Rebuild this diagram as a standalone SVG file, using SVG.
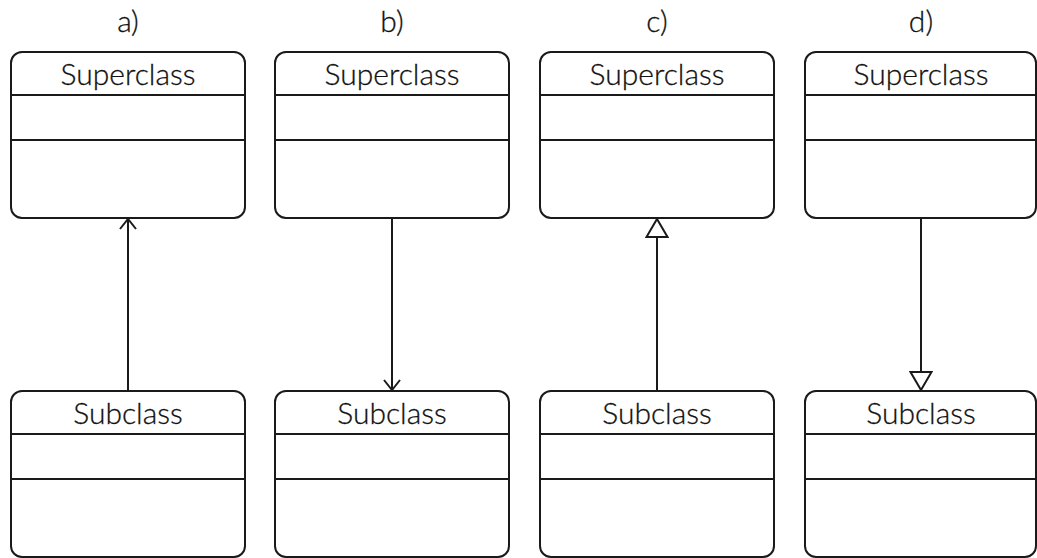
<svg xmlns="http://www.w3.org/2000/svg" width="1037" height="558" viewBox="0 0 1037 558">
<style>
.box{fill:#fff;stroke:#1a1a1a;stroke-width:2}
.div{stroke:#1a1a1a;stroke-width:2}
.t{font-family:Lato,"Noto Sans",sans-serif;font-weight:300;font-size:30px;fill:#111;text-anchor:middle;stroke:#111;stroke-width:0.3}
.c{stroke:#1a1a1a;stroke-width:2;fill:none}
</style>
<defs>
<marker id="open" viewBox="0 0 20 20" refX="19" refY="10" markerWidth="20" markerHeight="20" markerUnits="userSpaceOnUse" orient="auto">
<path d="M9,2 L19,10 L9,18" fill="none" stroke="#1a1a1a" stroke-width="2"/>
</marker>
<marker id="tri" viewBox="0 0 24 24" refX="22" refY="12" markerWidth="24" markerHeight="24" markerUnits="userSpaceOnUse" orient="auto">
<path d="M4,1.5 L22,12 L4,22.5 Z" fill="#fff" stroke="#1a1a1a" stroke-width="2"/>
</marker>
</defs>
<rect width="1037" height="558" fill="#fff"/>
<g id="labels">
<text class="t" x="128" y="32">a)</text>
<text class="t" x="392" y="32">b)</text>
<text class="t" x="657" y="32">c)</text>
<text class="t" x="921" y="32">d)</text>
</g>
<g id="super-a"><rect class="box" x="11" y="52" width="234" height="166" rx="11"/><line class="div" x1="11" y1="95" x2="245" y2="95"/><line class="div" x1="11" y1="140" x2="245" y2="140"/><text class="t" x="128" y="85">Superclass</text></g>
<g id="super-b"><rect class="box" x="275" y="52" width="234" height="166" rx="11"/><line class="div" x1="275" y1="95" x2="509" y2="95"/><line class="div" x1="275" y1="140" x2="509" y2="140"/><text class="t" x="392" y="85">Superclass</text></g>
<g id="super-c"><rect class="box" x="540" y="52" width="234" height="166" rx="11"/><line class="div" x1="540" y1="95" x2="774" y2="95"/><line class="div" x1="540" y1="140" x2="774" y2="140"/><text class="t" x="657" y="85">Superclass</text></g>
<g id="super-d"><rect class="box" x="805" y="52" width="231" height="166" rx="11"/><line class="div" x1="805" y1="95" x2="1036" y2="95"/><line class="div" x1="805" y1="140" x2="1036" y2="140"/><text class="t" x="921" y="85">Superclass</text></g>
<g id="sub-a"><rect class="box" x="11" y="391" width="234" height="166" rx="11"/><line class="div" x1="11" y1="434" x2="245" y2="434"/><line class="div" x1="11" y1="479" x2="245" y2="479"/><text class="t" x="128" y="424">Subclass</text></g>
<g id="sub-b"><rect class="box" x="275" y="391" width="234" height="166" rx="11"/><line class="div" x1="275" y1="434" x2="509" y2="434"/><line class="div" x1="275" y1="479" x2="509" y2="479"/><text class="t" x="392" y="424">Subclass</text></g>
<g id="sub-c"><rect class="box" x="540" y="391" width="234" height="166" rx="11"/><line class="div" x1="540" y1="434" x2="774" y2="434"/><line class="div" x1="540" y1="479" x2="774" y2="479"/><text class="t" x="657" y="424">Subclass</text></g>
<g id="sub-d"><rect class="box" x="805" y="391" width="231" height="166" rx="11"/><line class="div" x1="805" y1="434" x2="1036" y2="434"/><line class="div" x1="805" y1="479" x2="1036" y2="479"/><text class="t" x="921" y="424">Subclass</text></g>
<g id="connectors">
<line class="c" x1="128" y1="391" x2="128" y2="219" marker-end="url(#open)"/>
<line class="c" x1="392" y1="218" x2="392" y2="390" marker-end="url(#open)"/>
<line class="c" x1="657" y1="391" x2="657" y2="219" marker-end="url(#tri)"/>
<line class="c" x1="921" y1="218" x2="921" y2="390" marker-end="url(#tri)"/>
</g>
</svg>
